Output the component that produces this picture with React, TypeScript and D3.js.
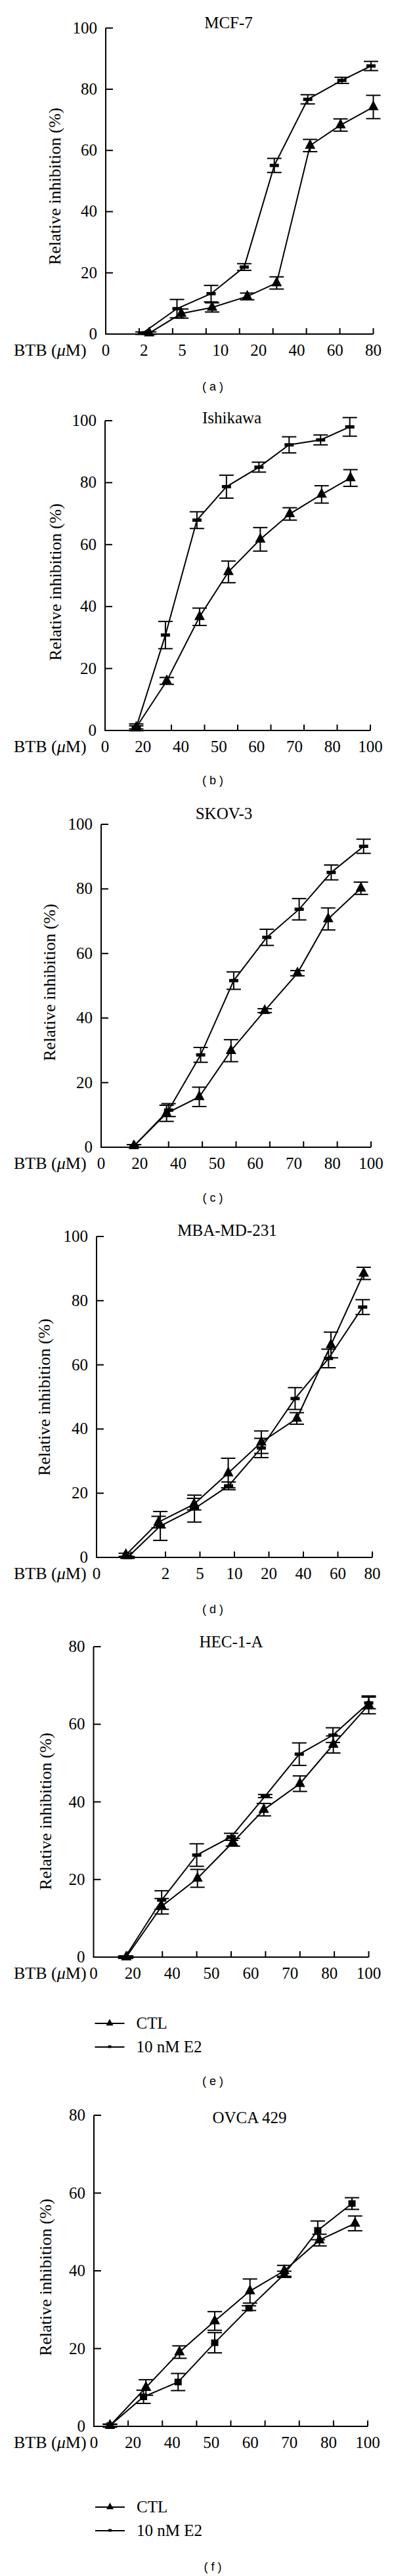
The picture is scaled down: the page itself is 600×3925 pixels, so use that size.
import React from "react";
import * as d3 from "d3";

// [x in tick units (axis runs 0..8), relative inhibition %, error]
type Pt = [number, number, number];

const evenLabels = (n: number) => d3.range(n).map((j) => (j * 8) / (n - 1));

const mcf7Labels = ["0", "2", "5", "10", "20", "40", "60", "80"];
const mcf7Ctl: Pt[] = [[1.3, 0.3, 0.4], [2.26, 6.7, 1.5], [3.18, 8.7, 1.5], [4.23, 12.3, 1.1], [5.11, 16.7, 2.0], [6.11, 61.6, 2.0], [7.02, 68.3, 2.0], [8.0, 74.2, 3.8]];
const mcf7E2: Pt[] = [[1.1, 0.3, 0.4], [2.13, 8.3, 3.0], [3.15, 13.2, 2.7], [4.14, 21.9, 1.1], [5.04, 55.1, 2.3], [6.04, 76.7, 1.5], [7.06, 82.9, 1.0], [7.93, 87.6, 1.5]];

const ishiLabels = ["0", "20", "40", "50", "60", "70", "80", "100"];
const ishiCtl: Pt[] = [[0.94, 1.0, 0.5], [1.86, 16.0, 1.1], [2.85, 36.7, 2.8], [3.72, 51.2, 3.5], [4.68, 61.7, 3.8], [5.57, 69.9, 2.0], [6.53, 76.2, 2.8], [7.4, 81.5, 2.7]];
const ishiE2: Pt[] = [[0.94, 1.0, 1.1], [1.82, 30.8, 4.4], [2.77, 67.9, 2.7], [3.66, 78.7, 3.7], [4.64, 85.0, 1.6], [5.55, 92.2, 2.6], [6.5, 93.8, 1.6], [7.38, 98.0, 3.0]];

const skovLabels = ["0", "20", "40", "50", "60", "70", "80", "100"];
const skovCtl: Pt[] = [[0.97, 0.4, 0.4], [1.94, 10.5, 2.5], [2.91, 15.6, 3.0], [3.85, 29.9, 3.4], [4.85, 42.3, 0.6], [5.82, 53.9, 0.8], [6.73, 70.7, 3.4], [7.7, 80.2, 1.9]];
const skovE2: Pt[] = [[0.98, 0.4, 0.4], [2.0, 11.5, 2.0], [2.95, 28.6, 2.3], [3.93, 51.6, 2.7], [4.91, 65.0, 2.5], [5.87, 73.7, 3.3], [6.82, 85.1, 2.3], [7.78, 93.2, 2.2]];

const mbaLabels = ["0", "2", "5", "10", "20", "40", "60", "80"];
const mbaLabelPos = [0, 2, 3, 4, 5, 6, 7, 8];
const mbaCtl: Pt[] = [[0.85, 0.8, 0.5], [1.8, 11.0, 1.8], [2.83, 16.6, 1.8], [3.82, 26.3, 4.6], [4.78, 35.9, 3.5], [5.81, 43.3, 1.8], [6.8, 66.2, 4.0], [7.75, 88.5, 1.9]];
const mbaE2: Pt[] = [[0.9, 0.0, 0.3], [1.85, 9.8, 4.5], [2.84, 15.2, 4.2], [3.83, 22.3, 1.2], [4.78, 34.1, 3.0], [5.76, 49.5, 3.4], [6.73, 62.0, 2.9], [7.72, 78.0, 2.3]];

const hecLabels = ["0", "20", "40", "50", "60", "70", "80", "100"];
const hecCtl: Pt[] = [[0.95, 0.0, 0.3], [1.98, 13.1, 2.0], [3.02, 20.3, 2.3], [4.05, 29.6, 1.0], [4.95, 38.0, 1.6], [6.0, 44.7, 2.0], [6.97, 54.8, 2.2], [8.0, 65.0, 2.3]];
const hecE2: Pt[] = [[0.92, 0.0, 0.3], [1.98, 14.7, 2.4], [3.0, 26.3, 2.9], [4.0, 31.0, 0.9], [4.99, 41.5, 0.4], [5.98, 52.3, 2.9], [6.96, 57.2, 1.9], [8.0, 65.5, 1.5]];

const ovcaLabels = ["0", "20", "40", "50", "60", "70", "80", "100"];
const ovcaCtl: Pt[] = [[0.47, 0.2, 0.3], [1.52, 10.0, 2.0], [2.5, 19.1, 1.6], [3.53, 27.1, 2.4], [4.56, 34.8, 3.1], [5.56, 40.0, 1.4], [6.59, 47.9, 1.5], [7.63, 52.2, 1.9]];
const ovcaE2: Pt[] = [[0.47, 0.2, 0.4], [1.45, 7.6, 1.7], [2.46, 11.4, 2.2], [3.53, 21.5, 2.6], [4.53, 30.4, 0.6], [5.56, 39.1, 0.8], [6.54, 50.4, 2.4], [7.54, 57.3, 1.5]];

const yTicks100 = [0, 20, 40, 60, 80, 100];
const yTicks80 = [0, 20, 40, 60, 80];
const legendNames = ["CTL", "10 nM E2"];

const SERIF = "'Liberation Serif', 'Times New Roman', Times, serif";
const SANS = "'Liberation Sans', Arial, sans-serif";

const panels = [
  { tag: "a", title: "MCF-7", labels: mcf7Labels, labelPos: evenLabels(8), ctl: mcf7Ctl, e2: mcf7E2, yMax: 100, yTicks: yTicks100,
    x0: 161, x1: 568.5, y0: 509, yTop: 42.7, tx: 348, ty: 43, ylx: 85, yly: 284, ly: 595, legend: null, sq: false },
  { tag: "b", title: "Ishikawa", labels: ishiLabels, labelPos: evenLabels(8), ctl: ishiCtl, e2: ishiE2, yMax: 100, yTicks: yTicks100,
    x0: 160, x1: 564, y0: 1113, yTop: 641, tx: 353, ty: 645, ylx: 86, yly: 887, ly: 1195, legend: null, sq: false },
  { tag: "c", title: "SKOV-3", labels: skovLabels, labelPos: evenLabels(8), ctl: skovCtl, e2: skovE2, yMax: 100, yTicks: yTicks100,
    x0: 154, x1: 565, y0: 1748, yTop: 1256, tx: 341, ty: 1248, ylx: 77, yly: 1497, ly: 1831, legend: null, sq: false },
  { tag: "d", title: "MBA-MD-231", labels: mbaLabels, labelPos: mbaLabelPos, ctl: mbaCtl, e2: mbaE2, yMax: 100, yTicks: yTicks100,
    x0: 147, x1: 567, y0: 2373, yTop: 1884, tx: 346, ty: 1883, ylx: 69, yly: 2129, ly: 2458, legend: null, sq: false },
  { tag: "e", title: "HEC-1-A", labels: hecLabels, labelPos: evenLabels(8), ctl: hecCtl, e2: hecE2, yMax: 80, yTicks: yTicks80,
    x0: 142.5, x1: 561.5, y0: 2982, yTop: 2509, tx: 352, ty: 2510, ylx: 71, yly: 2760, ly: 3177, legend: [3083, 3119], sq: false },
  { tag: "f", title: "OVCA 429", labels: ovcaLabels, labelPos: evenLabels(8), ctl: ovcaCtl, e2: ovcaE2, yMax: 80, yTicks: yTicks80,
    x0: 143, x1: 560, y0: 3697, yTop: 3223, tx: 380, ty: 3235, ylx: 71, yly: 3470, ly: 3917, legend: [3820, 3856], sq: true },
];

const tri = (w: number, h: number) => `M0,${(-2 * h) / 3}L${w / 2},${h / 3}L${-w / 2},${h / 3}Z`;

const Panel = ({ p }: { p: (typeof panels)[number] }) => {
  const x = d3.scaleLinear().domain([0, 8]).range([p.x0, p.x1]);
  const y = d3.scaleLinear().domain([0, p.yMax]).range([p.y0, p.yTop]);
  const line = d3.line<Pt>().x((d) => x(d[0])).y((d) => y(d[1]));
  const cap = 11;

  const errBars = (pts: Pt[], key: string) =>
    pts.map((d, i) => {
      const cx = x(d[0]);
      const lo = y(d[1] - d[2]);
      const hi = y(d[1] + d[2]);
      return (
        <g key={key + i}>
          <line x1={cx} x2={cx} y1={lo} y2={hi} />
          <line x1={cx - cap} x2={cx + cap} y1={lo} y2={lo} />
          <line x1={cx - cap} x2={cx + cap} y1={hi} y2={hi} />
        </g>
      );
    });

  const sqW = p.sq ? 11 : 14;
  const sqH = p.sq ? 10 : 5;

  return (
    <g fontFamily={SERIF} fill="#000">
      <text x={p.tx} y={p.ty} fontSize={25} textAnchor="middle">{p.title}</text>

      {/* axes */}
      <g stroke="#000" strokeWidth={2} fill="none">
        <line x1={p.x0} x2={p.x0} y1={p.yTop} y2={p.y0 + 1} />
        <line x1={p.x0} x2={p.x1} y1={p.y0} y2={p.y0} />
        {p.yTicks.map((t) => (
          <line key={"yt" + t} x1={p.x0} x2={p.x0 + 11} y1={y(t)} y2={y(t)} />
        ))}
        {d3.range(1, 9).map((k) => (
          <line key={"xt" + k} x1={x(k)} x2={x(k)} y1={p.y0} y2={p.y0 - 9} />
        ))}
      </g>
      {p.yTicks.map((t) => (
        <text key={"yl" + t} x={p.x0 - 13} y={y(t) + 8} fontSize={25} textAnchor="end">{t}</text>
      ))}
      {p.labels.map((l, j) => (
        <text key={"xl" + j} x={x(p.labelPos[j])} y={p.y0 + 33} fontSize={25} textAnchor="middle">{l}</text>
      ))}
      <text x={21} y={p.y0 + 33} fontSize={26}>
        BTB (<tspan fontStyle="italic">μ</tspan>M)
      </text>
      <text transform={`translate(${p.ylx + 7},${p.yly}) rotate(-90)`} fontSize={26} textAnchor="middle">
        Relative inhibition (%)
      </text>

      {/* series */}
      <g stroke="#000" strokeWidth={2} fill="none">
        <path d={line(p.ctl) ?? ""} />
        <path d={line(p.e2) ?? ""} />
        {errBars(p.ctl, "c")}
        {errBars(p.e2, "e")}
      </g>
      {p.ctl.map((d, i) => (
        <path key={"m" + i} d={tri(16, 15)} transform={`translate(${x(d[0])},${y(d[1])})`} fill="#000" />
      ))}
      {p.e2.map((d, i) => (
        <rect key={"s" + i} x={x(d[0]) - sqW / 2} y={y(d[1]) - sqH / 2} width={sqW} height={sqH} fill="#000" />
      ))}

      {p.legend && (
        <g>
          {p.legend.map((ly, i) => (
            <g key={"lg" + i}>
              <line x1={p.x0 + 2} x2={p.x0 + 47} y1={ly} y2={ly} stroke="#000" strokeWidth={2} />
              {i === 0 ? (
                <path d={tri(11, 10)} transform={`translate(${p.x0 + 24.5},${ly})`} fill="#000" />
              ) : (
                <rect x={p.x0 + 22} y={ly - 2.5} width={5} height={4} fill="#000" />
              )}
              <text x={p.x0 + 65} y={ly + 8} fontSize={25}>{legendNames[i]}</text>
            </g>
          ))}
        </g>
      )}

      <text x={324} y={p.ly} fontSize={18} fontFamily={SANS} textAnchor="middle">{`( ${p.tag} )`}</text>
    </g>
  );
};

export default function App() {
  return (
    <div>
      <style>{"body{margin:0;background:#fff}"}</style>
      <svg width={600} height={3925} viewBox="0 0 600 3925" style={{ display: "block" }}>
        <rect width={600} height={3925} fill="#fff" />
        {panels.map((p) => (
          <Panel key={p.tag} p={p} />
        ))}
      </svg>
    </div>
  );
}
